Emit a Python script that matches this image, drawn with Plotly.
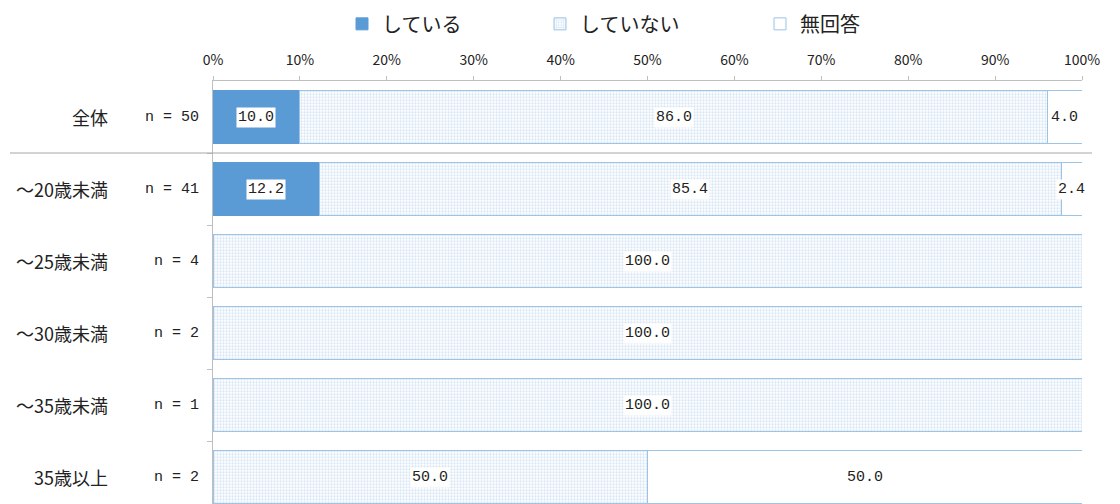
import plotly.graph_objects as go

categories = ["全体", "〜20歳未満", "〜25歳未満", "〜30歳未満", "〜35歳未満", "35歳以上"]
n_labels = ["n = 50", "n = 41", "n = 4", "n = 2", "n = 1", "n = 2"]
series_names = ["している", "していない", "無回答"]
doing = [10.0, 12.2, 0.0, 0.0, 0.0, 0.0]
not_doing = [86.0, 85.4, 100.0, 100.0, 100.0, 50.0]
no_answer = [4.0, 2.4, 0.0, 0.0, 0.0, 50.0]
x_ticks = [0, 10, 20, 30, 40, 50, 60, 70, 80, 90, 100]

ypos = list(range(len(categories)))
num_font = "Liberation Mono, DejaVu Sans Mono, monospace"
jp_font = "Noto Sans CJK JP, sans-serif"

# page body has an 8px margin; plot area in page pixels
plot_left, plot_right = 213, 1082

def px_to_paper(px):
    return (px - plot_left) / (plot_right - plot_left)

fig = go.Figure()
fig.add_trace(go.Bar(
    name=series_names[0], y=ypos, x=doing, orientation="h",
    marker=dict(color="#5B9BD5", line=dict(color="#5B9BD5", width=1)),
    width=0.74, hoverinfo="x", legend="legend",
))
fig.add_trace(go.Bar(
    name=series_names[1], y=ypos, x=not_doing, orientation="h",
    marker=dict(color="#FFFFFF", line=dict(color="#9DC3E6", width=1),
                pattern=dict(shape=".", fgcolor="#B4CFEA", bgcolor="#FFFFFF",
                             size=3, solidity=0.45)),
    width=0.74, hoverinfo="x", legend="legend2",
))
fig.add_trace(go.Bar(
    name=series_names[2], y=ypos, x=no_answer, orientation="h",
    marker=dict(color="#FFFFFF", line=dict(color="#9DC3E6", width=1)),
    width=0.74, hoverinfo="x", legend="legend3",
))

annotations = []
for i in range(len(categories)):
    start = 0.0
    for vals in (doing, not_doing, no_answer):
        v = vals[i]
        if v > 0:
            annotations.append(dict(
                x=start + v / 2, y=ypos[i], xref="x", yref="y",
                text=f"{v:.1f}", showarrow=False,
                font=dict(family=num_font, size=15, color="#222222"),
                bgcolor="#FFFFFF", borderpad=1,
            ))
        start += v
    annotations.append(dict(
        x=px_to_paper(110), y=ypos[i], xref="paper", yref="y", xanchor="right",
        text=categories[i], showarrow=False,
        font=dict(family=jp_font, size=18, color="#222222"),
    ))
    annotations.append(dict(
        x=px_to_paper(201), y=ypos[i], xref="paper", yref="y", xanchor="right",
        text=n_labels[i], showarrow=False,
        font=dict(family=num_font, size=15, color="#222222"),
    ))

def legend_at(px):
    return dict(orientation="h", x=px_to_paper(px), xanchor="left",
                y=0.968, yanchor="middle", yref="container",
                bgcolor="rgba(0,0,0,0)",
                font=dict(family=jp_font, size=20, color="#222222"),
                itemclick=False)

fig.update_layout(
    width=1112, height=496,
    barmode="stack",
    plot_bgcolor="#FFFFFF", paper_bgcolor="#FFFFFF",
    margin=dict(l=205, r=38, t=73, b=0),
    annotations=annotations,
    shapes=[dict(type="line", xref="paper", yref="y",
                 x0=px_to_paper(10), x1=px_to_paper(1092),
                 y0=0.5, y1=0.5, line=dict(color="#A6A6A6", width=1))],
    legend=legend_at(342),
    legend2=legend_at(540),
    legend3=legend_at(760),
    showlegend=True,
)
fig.update_xaxes(
    range=[0, 100], side="top", tickvals=x_ticks,
    ticktext=[f"{t}%" for t in x_ticks],
    tickfont=dict(family=jp_font, size=14, color="#222222"),
    ticklabelstandoff=5,
    showgrid=False, zeroline=False,
    showline=True, linecolor="#BFBFBF", linewidth=1,
    ticks="outside", ticklen=4, tickcolor="#BFBFBF",
)
fig.update_yaxes(
    range=[5.375, -0.5], tickvals=[0.5, 1.5, 2.5, 3.5, 4.5], ticktext=[""] * 5,
    showgrid=False, zeroline=False,
    showline=True, linecolor="#BFBFBF", linewidth=1,
    ticks="outside", ticklen=5, tickcolor="#BFBFBF",
)

fig.write_html("out.html")
